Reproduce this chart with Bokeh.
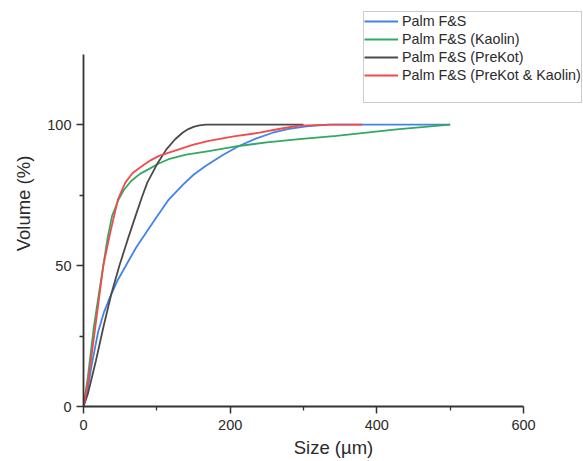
from bokeh.plotting import figure
from bokeh.models import Range1d, FixedTicker, Legend, LegendItem
from bokeh.embed import file_html
from bokeh.resources import INLINE

# ---- data ----
x_ticks = [0, 200, 400, 600]
x_minor = [100, 300, 500]
y_ticks = [0, 50, 100]
y_minor = [25, 75]

blue_x = [0, 5, 11, 20, 28, 36, 46, 60, 72, 85, 100, 116, 135, 150, 166, 190, 212, 235, 258, 280, 304, 335, 500]
blue_y = [0, 5, 14.5, 26.5, 33.5, 38.7, 44.5, 51, 56.5, 61.5, 67.3, 73.3, 78.5, 82.2, 85.2, 89.2, 92.4, 95, 97.1, 98.5, 99.4, 100, 100]

green_x = [0, 6, 14, 21, 27, 33, 39, 48, 55, 65, 77, 89, 102, 116, 140, 171, 212, 250, 294, 345, 427, 500]
green_y = [0, 10.5, 28, 40, 50, 60, 67.6, 73.5, 76.8, 80, 82.5, 84.2, 86.1, 87.7, 89.3, 90.6, 92.4, 93.7, 94.8, 96, 98.3, 100]

black_x = [0, 6, 17, 27, 38, 49, 60, 71, 80, 87, 100, 113, 125, 135, 143, 150, 158, 167, 300]
black_y = [0, 4.5, 16.3, 28, 40, 50, 59, 67.6, 74.5, 79.4, 85.8, 91.2, 94.8, 97.1, 98.4, 99.2, 99.7, 100, 100]

red_x = [0, 7, 16, 27, 36.5, 47, 57, 67, 80, 92, 103, 130, 150, 171, 205, 240, 270, 294, 340, 380]
red_y = [0, 10, 28, 50, 61.7, 73.5, 79.4, 82.8, 85.3, 87.4, 88.9, 91.2, 92.9, 94.2, 95.8, 97.1, 98.6, 99.6, 100, 100]

labels = ["Palm F&S", "Palm F&S (Kaolin)", "Palm F&S (PreKot)", "Palm F&S (PreKot & Kaolin)"]
colors = ["#4383e8", "#33a863", "#4a4a4a", "#f24a4a"]

FONT = "Liberation Sans"
TXT = "#2a2a2a"

p = figure(width=583, height=461, output_backend="svg", toolbar_location=None,
           x_range=Range1d(0, 681.8), y_range=Range1d(0, 144.0),
           min_border_left=83, min_border_right=0, min_border_top=0, min_border_bottom=55)
p.outline_line_color = None
p.grid.visible = False
p.background_fill_color = "white"
p.border_fill_color = "white"

series = [(blue_x, blue_y), (green_x, green_y), (black_x, black_y), (red_x, red_y)]
renderers = []
for (xs, ys), c in zip(series, colors):
    renderers.append(p.line(xs, ys, line_color=c, line_width=1.8))
dummy = p.line([0], [0], line_alpha=0)

for ax in (p.xaxis[0], p.yaxis[0]):
    ax.axis_line_color = "#333333"
    ax.axis_line_width = 1.8
    ax.major_tick_line_color = "#333333"
    ax.minor_tick_line_color = "#333333"
    ax.major_tick_line_width = 1.5
    ax.minor_tick_line_width = 1.3
    ax.major_tick_out = 7
    ax.major_tick_in = 0
    ax.minor_tick_out = 4
    ax.minor_tick_in = 0
    ax.major_label_text_font = FONT
    ax.major_label_text_font_size = "14.5px"
    ax.major_label_text_color = TXT
    ax.axis_label_text_font = FONT
    ax.axis_label_text_font_size = "18.5px"
    ax.axis_label_text_font_style = "normal"
    ax.axis_label_text_color = TXT

p.xaxis.ticker = FixedTicker(ticks=x_ticks, minor_ticks=x_minor)
p.yaxis.ticker = FixedTicker(ticks=y_ticks, minor_ticks=y_minor)
p.xaxis.bounds = (0, 600)
p.yaxis.bounds = (0, 125)
p.xaxis.axis_label = "Size (µm)"
p.yaxis.axis_label = "Volume (%)"
p.xaxis.major_label_standoff = 6
p.yaxis.major_label_standoff = 5
p.xaxis.axis_label_standoff = 4
p.yaxis.axis_label_standoff = 10

items = [LegendItem(label=l, renderers=[r]) for l, r in zip(labels, renderers)]
items.append(LegendItem(label=" ", renderers=[dummy]))
legend = Legend(items=items, location=(280, 303), margin=0, padding=0, spacing=0,
                label_height=18, glyph_height=18, glyph_width=34, label_standoff=4,
                label_text_font=FONT, label_text_font_size="14.3px", label_text_color=TXT,
                border_line_color="#999999", border_line_width=1.2,
                background_fill_color="white", background_fill_alpha=1.0)
p.add_layout(legend, "center")

open("out.html", "w").write(file_html(p, INLINE))
